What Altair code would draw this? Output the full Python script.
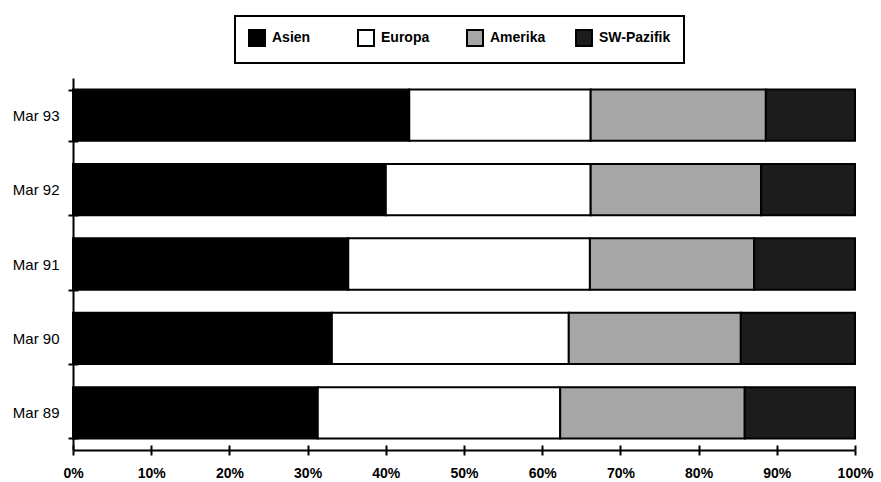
import altair as alt
import pandas as pd

periods = ["Mar 93", "Mar 92", "Mar 91", "Mar 90", "Mar 89"]
regions = ["Asien", "Europa", "Amerika", "SW-Pazifik"]
asien = [43.0, 40.0, 35.2, 33.1, 31.3]
europa = [23.2, 26.2, 30.9, 30.3, 31.0]
amerika = [22.4, 21.8, 21.0, 22.0, 23.6]
sw_pazifik = [11.4, 12.0, 12.9, 14.6, 14.1]
x_ticks = [0, 10, 20, 30, 40, 50, 60, 70, 80, 90, 100]
colors = ["#000000", "#ffffff", "#a6a6a6", "#1c1c1c"]

rows = []
for i, p in enumerate(periods):
    for j, (r, vals) in enumerate(zip(regions, [asien, europa, amerika, sw_pazifik])):
        rows.append({"period": p, "region": r, "share": vals[i], "order": j})
df = pd.DataFrame(rows)

FONT = "Liberation Sans"
W, H = 782, 372

y_scale = alt.Scale(domain=periods, paddingInner=0.31, paddingOuter=0.155)
x_scale = alt.Scale(domain=[0, 100], nice=False)
color = alt.Color(
    "region:N",
    scale=alt.Scale(domain=regions, range=colors),
    legend=alt.Legend(
        title=None, orient="none", legendX=162, legendY=-62, direction="horizontal",
        columns=4, symbolType="square", symbolSize=256, symbolStrokeColor="black",
        symbolStrokeWidth=2, labelFont=FONT, labelFontSize=14, labelFontWeight="bold",
        labelColor="black", labelOffset=6, columnPadding=10, gridAlign="all",
        padding=13, strokeColor="black", labelLimit=200,
    ),
)

chart = alt.Chart(df).mark_bar(stroke="black", strokeWidth=2).encode(
    y=alt.Y("period:N", scale=y_scale, sort=periods,
            axis=alt.Axis(title=None, orient="left", tickBand="extent", tickSize=5,
                          tickWidth=2, tickColor="black", domainColor="black",
                          domainWidth=2, labelFont=FONT, labelFontSize=15,
                          labelColor="black", labelPadding=9, grid=True,
                          gridColor="black", gridWidth=2, gridDash=[5, W + 10],
                          gridOpacity=1, zindex=1)),
    x=alt.X("share:Q", stack="zero", scale=x_scale,
            axis=alt.Axis(title=None, orient="bottom", values=x_ticks,
                          labelExpr="datum.value + '%'", labelFlush=False,
                          tickSize=5, tickWidth=2, tickColor="black",
                          domainColor="black", domainWidth=2, labelFont=FONT,
                          labelFontSize=14, labelFontWeight="bold", labelColor="black",
                          labelPadding=11, grid=True, gridColor="black", gridWidth=2,
                          gridDash=[5, H + 10], gridOpacity=1, zindex=1)),
    color=color,
    order=alt.Order("order:Q"),
).properties(
    width=W, height=H,
    padding={"left": 73, "top": 78, "right": 26, "bottom": 32},
    autosize=alt.AutoSizeParams(type="none"),
    background="white",
).configure_view(stroke=None).configure_legend(strokeWidth=2)

chart.save("out.html", embed_options={"renderer": "svg", "actions": False})
